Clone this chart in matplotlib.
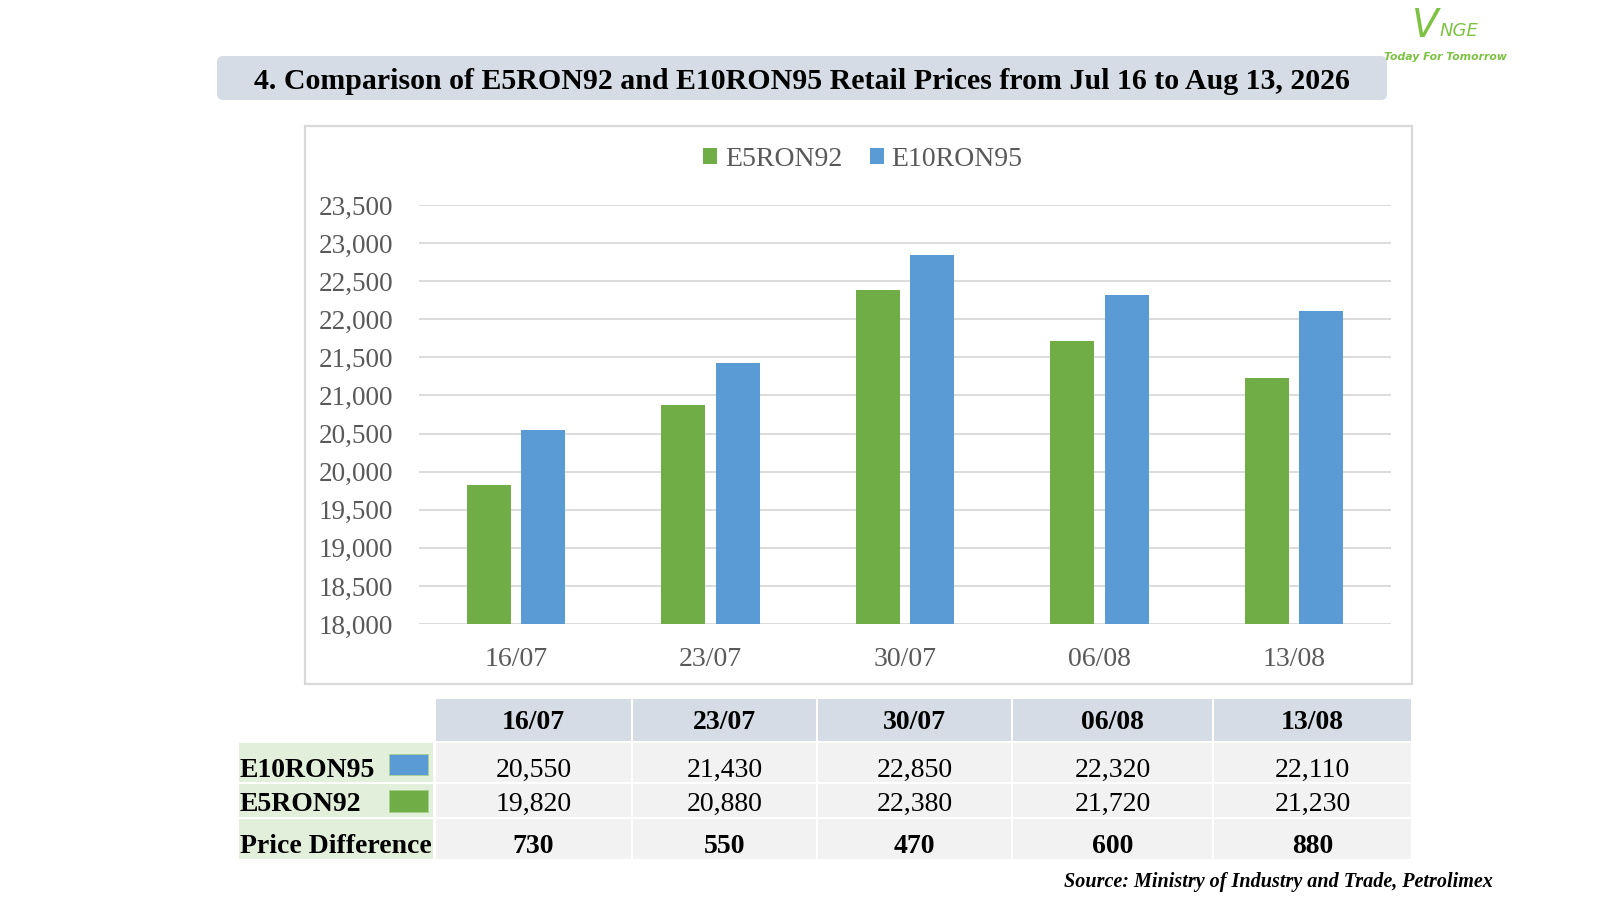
import matplotlib
matplotlib.use("Agg")
import matplotlib.pyplot as plt
from matplotlib.patches import FancyBboxPatch, Rectangle
from matplotlib.ticker import FuncFormatter, MultipleLocator
import numpy as np

# ── data ─────────────────────────────────────────────────────────────────────
dates = ["16/07", "23/07", "30/07", "06/08", "13/08"]
e5ron92 = [19820, 20880, 22380, 21720, 21230]
e10ron95 = [20550, 21430, 22850, 22320, 22110]
price_diff = [730, 550, 470, 600, 880]

# ── palette ──────────────────────────────────────────────────────────────────
C_GREEN = "#70AD47"
C_BLUE = "#5B9BD5"
C_GRID = "#D9D9D9"
C_TICK = "#595959"
C_HEAD = "#D6DCE5"
C_CELL = "#F2F2F2"
C_LABEL = "#E2EFDA"
C_LOGO = "#7DC242"

plt.rcParams["font.family"] = ["Liberation Serif", "DejaVu Serif"]
FS = 20

fig = plt.figure(figsize=(16, 9), dpi=100)
fig.patch.set_facecolor("white")

# background layer in pixel coords (y down)
bg = fig.add_axes([0, 0, 1, 1], zorder=0)
bg.set_xlim(0, 1600)
bg.set_ylim(900, 0)
bg.axis("off")

# title bar
bg.add_patch(FancyBboxPatch((217, 56), 1170, 44,
                            boxstyle="round,pad=0,rounding_size=6",
                            facecolor=C_HEAD, edgecolor="none"))
bg.text(802, 89, "4. Comparison of E5RON92 and E10RON95 Retail Prices from Jul 16 to Aug 13, 2026",
        fontsize=21.5, fontweight="bold", ha="center", va="baseline")

# logo
bg.text(1412, 37, "V", fontsize=28, style="italic", color=C_LOGO,
        family="DejaVu Sans", ha="left", va="baseline")
bg.text(1440, 36, "NGE", fontsize=13, style="italic", color=C_LOGO,
        family="DejaVu Sans", ha="left", va="baseline")
bg.text(1445, 57, "Today For Tomorrow", fontsize=7.8, style="italic", fontweight="bold",
        color=C_LOGO, family="DejaVu Sans", ha="center", va="center")

# chart frame
bg.add_patch(Rectangle((305, 126), 1107, 558, facecolor="white",
                       edgecolor=C_GRID, linewidth=1.6))

# ── bar chart ────────────────────────────────────────────────────────────────
ax = fig.add_axes([419 / 1600, 1 - 624 / 900, 972 / 1600, 419 / 900], zorder=2)
ax.set_facecolor("none")
x = np.arange(len(dates))
b1 = ax.bar(x - 0.14, e5ron92, width=0.226, color=C_GREEN, label="E5RON92", zorder=3)
b2 = ax.bar(x + 0.14, e10ron95, width=0.226, color=C_BLUE, label="E10RON95", zorder=3)
ax.set_xlim(-0.5, len(dates) - 0.5)
ax.set_ylim(18000, 23500)
ax.yaxis.set_major_locator(MultipleLocator(500))
ax.yaxis.set_major_formatter(FuncFormatter(lambda v, p: f"{v:,.0f}"))
ax.set_xticks(x)
ax.set_xticklabels(dates)
ax.grid(axis="y", color=C_GRID, linewidth=1.3, zorder=0)
for s in ax.spines.values():
    s.set_visible(False)
ax.tick_params(axis="y", length=0, pad=18.5, labelsize=19.5, labelcolor=C_TICK)
ax.tick_params(axis="x", length=0, pad=16.5, labelsize=FS, labelcolor=C_TICK)

fig.legend(handles=[b1, b2], loc="center", bbox_to_anchor=(863 / 1600, 1 - 159 / 900),
           ncol=2, frameon=False, fontsize=FS, labelcolor=C_TICK,
           handlelength=0.5, handleheight=0.5, handletextpad=0.28,
           columnspacing=1.0, borderpad=0)

# ── table under chart ────────────────────────────────────────────────────────
COL_X = [435, 632, 817, 1012, 1213, 1412]
ROWS = [(699, 741), (743, 782), (784, 817), (819, 859)]
BASE = [729, 777, 811, 853]

for i, d in enumerate(dates):
    x0, x1 = COL_X[i] + 1, COL_X[i + 1] - 1
    xc = (x0 + x1) / 2
    for r, (y0, y1) in enumerate(ROWS):
        bg.add_patch(Rectangle((x0, y0), x1 - x0, y1 - y0,
                               facecolor=C_HEAD if r == 0 else C_CELL, edgecolor="none"))
    bg.text(xc, BASE[0], d, fontsize=FS, fontweight="bold", ha="center", va="baseline")
    bg.text(xc, BASE[1], f"{e10ron95[i]:,}", fontsize=FS, ha="center", va="baseline")
    bg.text(xc, BASE[2], f"{e5ron92[i]:,}", fontsize=FS, ha="center", va="baseline")
    bg.text(xc, BASE[3], f"{price_diff[i]:,}", fontsize=FS, fontweight="bold",
            ha="center", va="baseline")

row_labels = ["E10RON95", "E5RON92", "Price Difference"]
for r, lab in enumerate(row_labels, start=1):
    y0, y1 = ROWS[r]
    bg.add_patch(Rectangle((239, y0), 194, y1 - y0, facecolor=C_LABEL, edgecolor="none"))
    bg.text(240, BASE[r], lab, fontsize=FS, fontweight="bold", ha="left", va="baseline")

# colour keys in the table
bg.add_patch(Rectangle((389, 754), 39, 21, facecolor=C_BLUE, edgecolor="#A9D08E", lw=0.6))
bg.add_patch(Rectangle((389, 790), 39, 22, facecolor=C_GREEN, edgecolor="#A9D08E", lw=0.6))

# source
bg.text(1493, 887, "Source: Ministry of Industry and Trade, Petrolimex",
        fontsize=14.5, fontweight="bold", style="italic", ha="right", va="baseline")

fig.savefig("out.png", dpi=100, facecolor="white")
